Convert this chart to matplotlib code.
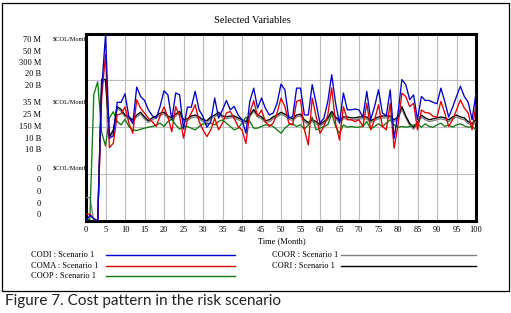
import matplotlib
matplotlib.use("Agg")
import matplotlib.pyplot as plt
from matplotlib.lines import Line2D
from matplotlib.patches import Rectangle

# ---------------- data ----------------
months = list(range(101))

# CODI, COMA, COOP in million $COL/Month ; COOR, CORI in billion $COL/Month
codi = [0, 2.1, 0.9, 0, 49, 69.3, 30.9, 31.8, 44.3, 44.3,
        47.5, 38.8, 36.3, 50, 46.5, 45, 41.5, 39.3, 38.4, 42.8,
        48.6, 47.1, 37.8, 47.8, 47.1, 34.3, 42.5, 42.5, 48.4, 41.5,
        39, 35, 37.1, 45.9, 38.4, 41.5, 45, 41.5, 42.8, 39.6,
        37.8, 32.8, 44.6, 49.6, 42.1, 45.9, 42.1, 39.6, 40.3, 44,
        51.1, 49, 38.4, 39, 49.6, 49.6, 39.6, 39.6, 50.9, 44,
        36.5, 38.4, 44.6, 54.6, 44, 36.5, 47.8, 41.5, 41.5, 41.8,
        41.5, 38.8, 48.4, 37.8, 42.8, 49, 40.3, 39.3, 49, 30.9,
        40.3, 52.8, 50.9, 45.3, 47.1, 37.8, 46.5, 45, 45, 44.3,
        43.8, 49.6, 44.6, 38.8, 42.5, 46.5, 50.3, 46.5, 44.3, 37.8,
        47.8]
coma = [1.8, 1.8, 0.6, 0, 32.5, 44.4, 19.6, 20.7, 28.3, 28.6,
        30.4, 26.1, 23.4, 32.3, 30.1, 28.8, 27.4, 26.5, 25.2, 28,
        30.4, 27.7, 23.8, 30.5, 28, 22.1, 27, 28.8, 31, 26.5,
        24.3, 22.5, 24.3, 27.4, 24.3, 26.1, 28.8, 29.2, 27.4, 25.2,
        24.3, 20.7, 28.8, 32.1, 27.9, 29.6, 26.5, 25.2, 26.1, 28.8,
        32.8, 30.5, 26.1, 25.6, 31.9, 32.3, 24.3, 20.3, 32.8, 27.9,
        23.4, 25.2, 28.3, 35.5, 26.1, 21.6, 30.5, 27, 27, 26.5,
        27, 25.2, 31.4, 24.3, 27, 31, 25.2, 24.3, 31.4, 19.4,
        25.6, 34.1, 33.2, 30.5, 31.4, 24.3, 29.6, 28.9, 28.8, 27.9,
        27.7, 31.9, 28.8, 25.2, 27, 29.6, 32.3, 30.1, 28.8, 24.3,
        31]
coop = [2, 3, 202.5, 222.8, 142.5, 120, 165, 174.8, 159.2, 153.8,
        162.9, 151.2, 145.8, 144.7, 146.9, 148.5, 150.1, 151.2, 153.8, 156.5,
        151.2, 159.2, 162.9, 153.8, 146.9, 151.2, 151.2, 148.5, 145.8, 151.2,
        155.4, 155.4, 156.5, 153.8, 159.2, 161.9, 156.5, 151.2, 145.8, 148.5,
        156.5, 166.2, 159.2, 148.5, 148.5, 151.2, 153.8, 153.8, 151.2, 145.8,
        140.4, 148.5, 153.8, 155.4, 151.2, 153.8, 146.9, 153.8, 166.2, 145.8,
        148.5, 151.2, 153.8, 171.5, 151.2, 140.4, 153.8, 150.1, 151.2, 150.1,
        150.1, 151.2, 159.2, 146.9, 151.2, 155.4, 151.2, 156.5, 161.9, 153.8,
        150.1, 151.2, 150.1, 151.2, 153.8, 155.4, 150.1, 155.4, 151.2, 150.1,
        153.8, 156.5, 151.2, 153.8, 150.1, 153.8, 155.4, 152.2, 150.1, 151.2,
        145.8]
coor = [2.5, 2.5, 0, 0, 14.8, 15.0, 8.8, 9.5, 12.0, 11.7,
        11.1, 10.9, 10.6, 11.1, 11.4, 10.9, 10.5, 10.8, 11.0, 11.3,
        11.4, 11.0, 10.8, 11.2, 11.5, 10.6, 10.7, 11.0, 11.1, 10.9,
        10.6, 10.5, 10.9, 11.1, 11.4, 11.0, 10.9, 11.0, 11.0, 10.8,
        10.6, 10.4, 11.1, 11.7, 11.1, 10.9, 10.5, 10.6, 10.9, 11.1,
        11.4, 11.2, 10.9, 10.7, 11.1, 11.2, 10.6, 10.3, 10.6, 10.4,
        10.1, 10.4, 10.8, 11.5, 10.9, 10.5, 10.9, 10.9, 10.8, 10.8,
        10.9, 10.9, 10.9, 10.5, 10.7, 10.9, 11.0, 11.0, 11.0, 10.6,
        10.9, 11.9, 11.0, 10.2, 9.8, 10.3, 11.1, 10.8, 10.6, 10.7,
        10.8, 10.9, 10.8, 10.6, 10.9, 11.1, 10.9, 10.8, 10.4, 10.2,
        10.6]
cori = [0, 0, 0, 0, 15.1, 15.1, 9.0, 9.7, 12.2, 11.9,
        11.3, 11.1, 10.8, 11.3, 11.6, 11.1, 10.7, 11.0, 11.2, 11.5,
        11.6, 11.2, 11.0, 11.4, 11.7, 10.8, 10.9, 11.2, 11.3, 11.1,
        10.8, 10.7, 11.1, 11.3, 11.6, 11.2, 11.1, 11.2, 11.2, 11.0,
        10.8, 10.6, 11.3, 11.9, 11.3, 11.1, 10.7, 10.8, 11.1, 11.3,
        11.6, 11.4, 11.1, 10.9, 11.3, 11.4, 10.8, 10.5, 10.8, 10.6,
        10.3, 10.6, 11.0, 11.7, 11.1, 10.7, 11.1, 11.1, 11.0, 11.0,
        11.1, 11.1, 11.1, 10.7, 10.9, 11.1, 11.2, 11.2, 11.2, 10.8,
        11.1, 12.2, 11.2, 10.4, 10.0, 10.5, 11.3, 11.0, 10.8, 10.9,
        11.0, 11.1, 11.0, 10.8, 11.1, 11.3, 11.1, 11.0, 10.6, 10.4,
        10.8]

series_names = ["CODI", "COMA", "COOP", "COOR", "CORI"]
scale_max = [70, 50, 300, 20, 20]
top_labels = ["70 M", "50 M", "300 M", "20 B", "20 B"]
mid_labels = ["35 M", "25 M", "150 M", "10 B", "10 B"]
low_labels = ["0", "0", "0", "0", "0"]
unit_label = r"\$COL/Month"
x_ticks = list(range(0, 101, 5))
title = "Selected Variables"
x_label = "Time (Month)"
legend_suffix = " : Scenario 1"
caption = "Figure 7. Cost pattern in the risk scenario"

colors = {"CODI": "#0000c8", "COMA": "#e00000", "COOP": "#107a10",
          "COOR": "#808080", "CORI": "#000000"}
data = {"CODI": codi, "COMA": coma, "COOP": coop, "COOR": coor, "CORI": cori}

# ---------------- figure ----------------
W, H = 511, 313
fig = plt.figure(figsize=(W / 100, H / 100), dpi=100)
fig.patch.set_facecolor("white")


def fx(px):
    return px / W


def fy(py):
    return 1 - py / H


SERIF = "Liberation Serif"

# outer frame
fig.add_artist(Rectangle((fx(2), fy(290.5)), (509 - 2) / W, (290.5 - 2.5) / H,
                         transform=fig.transFigure, fill=False,
                         edgecolor="black", linewidth=0.9))

ax_l, ax_r, ax_t, ax_b = 86, 476, 33.5, 221
ax = fig.add_axes([fx(ax_l), fy(ax_b), (ax_r - ax_l) / W, (ax_b - ax_t) / H])
ax.set_xlim(0, 100)
ax.set_ylim(0, 4)
ax.set_xticks(x_ticks)
ax.set_xticklabels([str(t) for t in x_ticks], fontfamily=SERIF, fontsize=6)
ax.set_yticks([1, 2, 3])
ax.tick_params(axis="both", length=0)
ax.tick_params(axis="x", pad=3.5)
ax.tick_params(axis="y", labelleft=False)
ax.grid(True, color="#bcbcbc", linewidth=0.8)
ax.set_axisbelow(True)
for sp in ax.spines.values():
    sp.set_linewidth(2.2)
    sp.set_zorder(5)

order = ["COOR", "CORI", "COOP", "COMA", "CODI"]
for name in order:
    i = series_names.index(name)
    tax = ax.twinx()
    tax.set_ylim(0, scale_max[i])
    tax.set_xlim(0, 100)
    tax.axis("off")
    tax.plot(months, data[name], color=colors[name], linewidth=0.95)

# title & axis label
fig.text(fx(252), fy(20.5), title, ha="center", va="center",
         fontfamily=SERIF, fontsize=7.5)
fig.text(fx(282), fy(241), x_label, ha="center", va="center",
         fontfamily=SERIF, fontsize=6)

# left scale labels
group_rows = [[40, 51.5, 63, 74.5, 86],
              [103.3, 115, 127, 139, 150.5],
              [169.3, 180.5, 192.3, 203.5, 215]]
for labels, rows in zip([top_labels, mid_labels, low_labels], group_rows):
    for lab, yy in zip(labels, rows):
        fig.text(fx(41), fy(yy), lab, ha="right", va="center",
                 fontfamily=SERIF, fontsize=6)
    fig.text(fx(53), fy(rows[0]), unit_label, ha="left", va="center",
             fontfamily=SERIF, fontsize=4.6)

# legend
left_col = series_names[:3]
right_col = series_names[3:]
rows_y = [255, 265.7, 276]
for names, tx, l0, l1 in [(left_col, 31, 106, 235), (right_col, 272, 341, 476)]:
    for name, yy in zip(names, rows_y):
        fig.text(fx(tx), fy(yy), name + legend_suffix, ha="left", va="center",
                 fontfamily=SERIF, fontsize=6)
        fig.add_artist(Line2D([fx(l0), fx(l1)], [fy(yy), fy(yy)],
                              transform=fig.transFigure,
                              color=colors[name], linewidth=1.0))

# caption
fig.text(fx(5), fy(300.5), caption, ha="left", va="center",
         fontfamily="Lato", fontsize=11, color="#222222")

fig.savefig("out.png", dpi=100, facecolor="white")
